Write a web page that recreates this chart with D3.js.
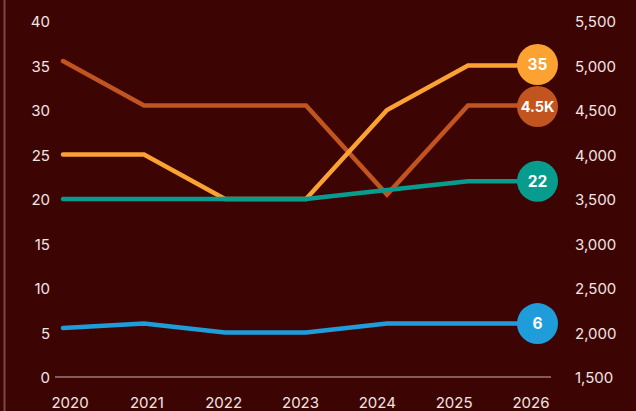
<!DOCTYPE html>
<html>
<head>
<meta charset="utf-8">
<script src="https://cdn.jsdelivr.net/npm/d3@7"></script>
<style>
  html, body { margin: 0; padding: 0; background: #3c0504; }
  svg { display: block; font-family: Inter, "Noto Sans", sans-serif; }
</style>
</head>
<body>
<svg id="chart" width="636" height="411"></svg>
<script>
// Years along the bottom
const years = ["2020", "2021", "2022", "2023", "2024", "2025", "2026"];

// Left-axis series
const goldValues = [25, 25, 20, 20, 30, 35, 35];
const tealValues = [20, 20, 20, 20, 21, 22, 22];
const blueValues = [5.5, 6, 5, 5, 6, 6, 6];

// Right-axis series
const rustValues = [5050, 4550, 4550, 4550, 3550, 4550, 4550];

// Tick labels
const leftTicks = [0, 5, 10, 15, 20, 25, 30, 35, 40];
const rightTicks = [1500, 2000, 2500, 3000, 3500, 4000, 4500, 5000, 5500];

const W = 636, H = 411;
const svg = d3.select("#chart");

svg.append("rect").attr("width", W).attr("height", H).attr("fill", "#3c0504");
// thin frame line on the left edge
svg.append("line")
  .attr("x1", 4.5).attr("x2", 4.5).attr("y1", 0).attr("y2", H)
  .attr("stroke", "#7e4946").attr("stroke-width", 2);

const x = d3.scalePoint().domain(years).range([63, 549]);
const xLabel = d3.scalePoint().domain(years).range([70, 531]);
const yL = d3.scaleLinear().domain([0, 40]).range([377, 21]);
const yR = d3.scaleLinear().domain([1500, 5500]).range([377, 21]);

const textColor = "#f3e4e2";

// baseline
svg.append("line")
  .attr("x1", 55).attr("x2", 551)
  .attr("y1", yL(0)).attr("y2", yL(0))
  .attr("stroke", "#cfb2ae").attr("stroke-width", 1.2);

// left axis labels
svg.append("g").selectAll("text").data(leftTicks).join("text")
  .attr("x", 50).attr("y", d => yL(d) + 1)
  .attr("dy", "0.36em")
  .attr("text-anchor", "end")
  .attr("fill", textColor).attr("font-size", 15)
  .text(d => d);

// right axis labels
const fmtR = d3.format(",");
svg.append("g").selectAll("text").data(rightTicks).join("text")
  .attr("x", 575).attr("y", d => yR(d) + 1)
  .attr("dy", "0.36em")
  .attr("text-anchor", "start")
  .attr("fill", textColor).attr("font-size", 15)
  .text(d => fmtR(d));

// bottom labels
svg.append("g").selectAll("text").data(years).join("text")
  .attr("x", d => xLabel(d)).attr("y", 408)
  .attr("text-anchor", "middle")
  .attr("fill", textColor).attr("font-size", 15)
  .text(d => d);

const series = [
  { key: "rust", values: rustValues, y: yR, color: "#c2541f" },
  { key: "gold", values: goldValues, y: yL, color: "#fba232" },
  { key: "teal", values: tealValues, y: yL, color: "#079c8e" },
  { key: "blue", values: blueValues, y: yL, color: "#1f9ddb" }
];

const line = (s) => d3.line()
  .x((d, i) => x(years[i]))
  .y(d => s.y(d))(s.values);

svg.append("g").selectAll("path").data(series).join("path")
  .attr("d", d => line(d))
  .attr("fill", "none")
  .attr("stroke", d => d.color)
  .attr("stroke-width", 4.5)
  .attr("stroke-linecap", "round");

// end-value bubbles, nudged apart so they don't overlap
const fmtBubble = v => v >= 1000 ? (v / 1000).toFixed(1) + "K" : String(v);
const r = 20.5;
const bubbles = series.map(s => {
  const v = s.values[s.values.length - 1];
  return { color: s.color, label: fmtBubble(v), y: s.y(v) };
}).sort((a, b) => a.y - b.y);

const minGap = 2 * r + 1;
for (let iter = 0; iter < 50; iter++) {
  for (let i = 1; i < bubbles.length; i++) {
    const a = bubbles[i - 1], b = bubbles[i];
    const overlap = minGap - (b.y - a.y);
    if (overlap > 0) { a.y -= overlap / 2; b.y += overlap / 2; }
  }
}

const bx = x(years[years.length - 1]) - 11.5;
const bg = svg.append("g").selectAll("g").data(bubbles).join("g")
  .attr("transform", d => `translate(${bx},${d.y})`);
bg.append("circle").attr("r", r).attr("fill", d => d.color);
bg.append("text")
  .attr("text-anchor", "middle")
  .attr("dy", "0.36em")
  .attr("fill", "#ffffff")
  .attr("font-weight", 700)
  .attr("font-size", d => d.label.length > 3 ? 14.5 : 15.5)
  .text(d => d.label);
</script>
</body>
</html>
